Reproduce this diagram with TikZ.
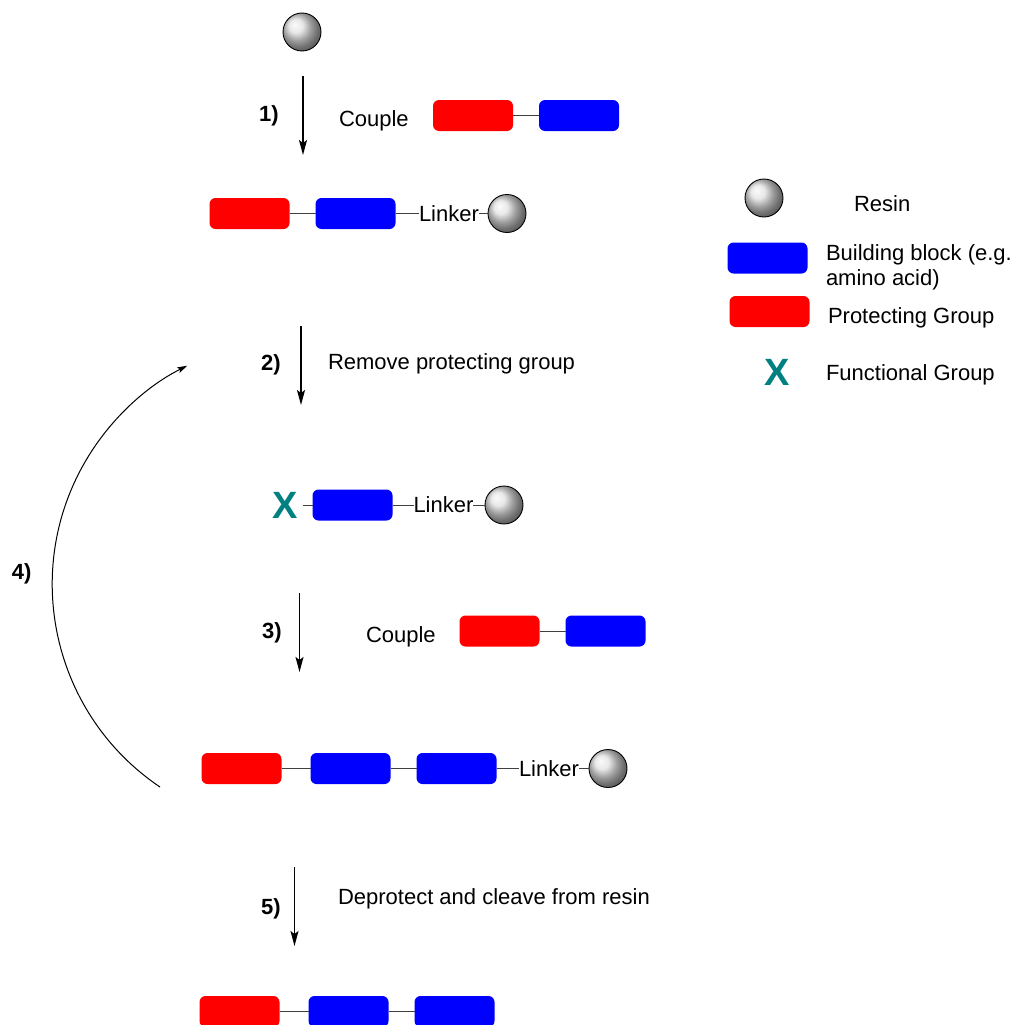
\documentclass[tikz,border=0pt]{standalone}
\usepackage{fontspec}
\setmainfont{Liberation Sans}
\usetikzlibrary{arrows.meta}
\definecolor{pgred}{RGB}{255,0,0}
\definecolor{bbblue}{RGB}{0,0,255}
\definecolor{fgteal}{RGB}{0,128,128}

\begin{document}
\begin{tikzpicture}[x=1pt,y=-1pt,
  every node/.style={inner sep=0pt, outer sep=0pt},
  txt/.style={font=\fontsize{22}{25}\selectfont},
  steplabel/.style={font=\fontsize{22}{25}\selectfont\bfseries},
  unit/.style={rectangle, rounded corners=6pt, minimum width=80pt, minimum height=31pt},
  protect/.style={unit, fill=pgred},
  block/.style={unit, fill=bbblue},
  resin/.style={circle, minimum size=38pt, shading=ball, ball color=black!12, draw=black, line width=0.9pt},
  fgroup/.style={font=\fontsize{38}{40}\selectfont\bfseries, text=fgteal},
  bond/.style={draw=black!75, line width=1pt},
  reaction/.style={draw=black, line width=1.6pt, -{Stealth[length=15pt,width=8pt,inset=3pt]}},
  cycle/.style={draw=black, line width=1pt, -{Stealth[length=10pt,width=6pt,inset=2pt]}},
]
\useasboundingbox (0,0) rectangle (1013,1025);

% starting resin bead
\node[resin] (r0) at (302,32) {};

% step 1: couple first building block
\coordinate (a1s) at (303,76);
\coordinate (a1e) at (303,155);
\draw[reaction] (a1s) -- (a1e);
\node[steplabel] (l1) at (269,115.5) {1)};
\node[txt, anchor=west] (t1) at (339,121) {Couple};
\node[protect] (p1) at (473,115.5) {};
\node[block] (b1) at (579,115.5) {};
\draw[bond] (p1) -- (b1);

% resin-bound protected unit
\node[protect] (p2) at (249.5,213.5) {};
\node[block] (b2) at (355.5,213.5) {};
\node[txt, anchor=west] (k2) at (419,213.5) {Linker};
\node[resin] (r2) at (507,213.5) {};
\draw[bond] (p2) -- (b2);
\draw[bond] (b2) -- (k2);
\draw[bond] (k2) -- (r2);

% step 2: deprotection
\coordinate (a2s) at (301,326);
\coordinate (a2e) at (301,405);
\draw[reaction] (a2s) -- (a2e);
\node[steplabel] (l2) at (271,364.5) {2)};
\node[txt, anchor=west] (t2) at (328,364) {Remove protecting group};

% free functional group on the bound unit
\node[fgroup] (x3) at (285,505) {X};
\node[block] (b3) at (352.5,505) {};
\node[txt, anchor=west] (k3) at (413.5,505) {Linker};
\node[resin] (r3) at (504,505) {};
\draw[bond, shorten <=5pt] (x3) -- (b3);
\draw[bond] (b3) -- (k3);
\draw[bond] (k3) -- (r3);

% step 3: couple next building block
\coordinate (a3s) at (299.5,593);
\coordinate (a3e) at (299.5,672);
\draw[reaction] (a3s) -- (a3e);
\node[steplabel] (l3) at (272,632.5) {3)};
\node[txt, anchor=west] (t3) at (366,637) {Couple};
\node[protect] (p3) at (499.5,631) {};
\node[block] (b3b) at (605.5,631) {};
\draw[bond] (p3) -- (b3b);

% elongated chain on resin
\node[protect] (p4) at (241.5,768.5) {};
\node[block] (b4a) at (350.5,768.5) {};
\node[block] (b4b) at (456.5,768.5) {};
\node[txt, anchor=west] (k4) at (519,768.5) {Linker};
\node[resin] (r4) at (608,768.5) {};
\draw[bond] (p4) -- (b4a);
\draw[bond] (b4a) -- (b4b);
\draw[bond] (b4b) -- (k4);
\draw[bond] (k4) -- (r4);

% step 4: repeat cycle
\coordinate (c4s) at (160,787);
\draw[cycle] (c4s) arc[start angle=236, end angle=116.6, radius=244.5pt];
\node[steplabel] (l4) at (21.7,573.5) {4)};

% step 5: final deprotection and cleavage
\coordinate (a5s) at (294.5,867);
\coordinate (a5e) at (294.5,946);
\draw[reaction] (a5s) -- (a5e);
\node[steplabel] (l5) at (271,908.5) {5)};
\node[txt, anchor=west] (t5) at (338,899) {Deprotect and cleave from resin};

% released product
\node[protect] (p5) at (239.5,1011.5) {};
\node[block] (b5a) at (348.5,1011.5) {};
\node[block] (b5b) at (454.5,1011.5) {};
\draw[bond] (p5) -- (b5a);
\draw[bond] (b5a) -- (b5b);

% legend
\node[resin] (kr) at (764,198) {};
\node[txt, anchor=west] (kr_t) at (854,204) {Resin};
\node[block] (kb) at (767.5,258) {};
\node[txt, anchor=west, align=left] (kb_t) at (826,267.5) {Building block (e.g.\\amino acid)};
\node[protect] (kp) at (769.5,311.5) {};
\node[txt, anchor=west] (kp_t) at (828,317.5) {Protecting Group};
\node[fgroup] (kx) at (777,372) {X};
\node[txt, anchor=west] (kx_t) at (826,374.5) {Functional Group};
\end{tikzpicture}
\end{document}
